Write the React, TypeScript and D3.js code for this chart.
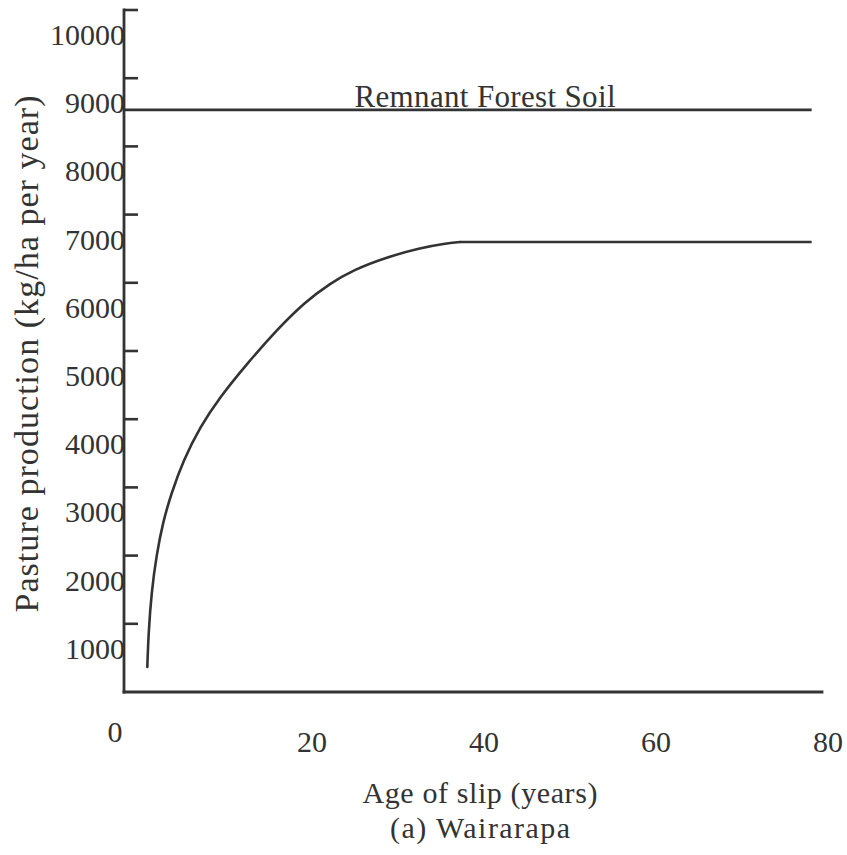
import React from "react";
import * as d3 from "d3";

// ---- data ----
const yTickValues = [1000, 2000, 3000, 4000, 5000, 6000, 7000, 8000, 9000, 10000];
const yTickLabels = ["1000", "2000", "3000", "4000", "5000", "6000", "7000", "8000", "9000", "10000"];
const xTickValues = [0, 20, 40, 60, 80];
const xTickLabels = ["0", "20", "40", "60", "80"];

const curveAges = [0.85, 0.99, 1.34, 1.92, 2.67, 3.66, 5.0, 6.98, 9.3, 12.41, 15.9, 19.19, 22.09, 24.77, 28.72, 32.56, 35.47, 37.21, 78.1];
const curveValues = [367, 865, 1466, 2009, 2493, 2918, 3387, 3886, 4326, 4809, 5310, 5720, 5990, 6188, 6378, 6510, 6576, 6598, 6598];

const forestAges = [-1.9, 78.1];
const forestValues = [8535, 8535];
const forestLabel = "Remnant Forest Soil";

const xTitle = "Age of slip (years)";
const subTitle = "(a) Wairarapa";
const yTitle = "Pasture production (kg/ha per year)";

// ---- layout ----
const W = 847;
const H = 855;
const axisX = 124;
const axisY = 692;
const axisTop = 10;
const axisRight = 822;
const ink = "#333";
const font = "'Liberation Serif', 'Times New Roman', serif";

export default function App() {
  const x = d3.scaleLinear().domain([0, 80]).range([140, 828]);
  const y = d3.scaleLinear().domain([0, 10000]).range([axisY, axisTop]);

  const plateauStart = curveAges.length - 2;
  const riseLine = d3
    .line<[number, number]>()
    .x((d) => x(d[0]))
    .y((d) => y(d[1]))
    .curve(d3.curveBasis);
  const straight = d3
    .line<[number, number]>()
    .x((d) => x(d[0]))
    .y((d) => y(d[1]));

  const curvePts: [number, number][] = curveAges.map((a, i) => [a, curveValues[i]]);
  const risePts = curvePts.slice(0, plateauStart + 1);
  const flatPts = curvePts.slice(plateauStart);
  const forestPts: [number, number][] = forestAges.map((a, i) => [a, forestValues[i]]);

  return (
    <svg
      width={W}
      height={H}
      viewBox={`0 0 ${W} ${H}`}
      style={{ position: "absolute", left: 0, top: 0, background: "#fff" }}
      fontFamily={font}
    >
      <rect x={0} y={0} width={W} height={H} fill="#fff" />
      {/* axes */}
      <line x1={axisX} y1={axisTop} x2={axisX} y2={axisY} stroke={ink} strokeWidth={2.8} strokeLinecap="square" />
      <line x1={axisX} y1={axisY} x2={axisRight} y2={axisY} stroke={ink} strokeWidth={2.8} strokeLinecap="square" />
      {/* y ticks */}
      {yTickValues.map((v, i) => (
        <g key={v}>
          <line x1={axisX} x2={axisX + 14} y1={y(v)} y2={y(v)} stroke={ink} strokeWidth={2.6} />
          <text x={axisX + 1} y={y(v) + 35} textAnchor="end" fontSize={30} fill={ink}>
            {yTickLabels[i]}
          </text>
        </g>
      ))}
      {/* x tick labels */}
      {xTickValues.map((v, i) => (
        <text
          key={v}
          x={v === 0 ? x(v) - 25 : x(v)}
          y={v === 0 ? 742 : 752}
          textAnchor="middle"
          fontSize={30}
          fill={ink}
        >
          {xTickLabels[i]}
        </text>
      ))}
      {/* lines */}
      <path d={straight(forestPts) || ""} fill="none" stroke={ink} strokeWidth={2.6} />
      <path d={riseLine(risePts) || ""} fill="none" stroke={ink} strokeWidth={2.6} strokeLinecap="round" />
      <path d={straight(flatPts) || ""} fill="none" stroke={ink} strokeWidth={2.6} />
      <text
        x={485}
        y={y(forestValues[0]) - 3}
        textAnchor="middle"
        fontSize={31}
        fill={ink}
        textLength={261}
        lengthAdjust="spacing"
      >
        {forestLabel}
      </text>
      {/* titles */}
      <text x={480} y={803} textAnchor="middle" fontSize={30} fill={ink} textLength={235} lengthAdjust="spacing">
        {xTitle}
      </text>
      <text x={480} y={838} textAnchor="middle" fontSize={30} fill={ink} textLength={180} lengthAdjust="spacing">
        {subTitle}
      </text>
      <text
        transform={`translate(38, 354) rotate(-90)`}
        textAnchor="middle"
        fontSize={34}
        fill={ink}
        textLength={517}
        lengthAdjust="spacing"
      >
        {yTitle}
      </text>
    </svg>
  );
}
